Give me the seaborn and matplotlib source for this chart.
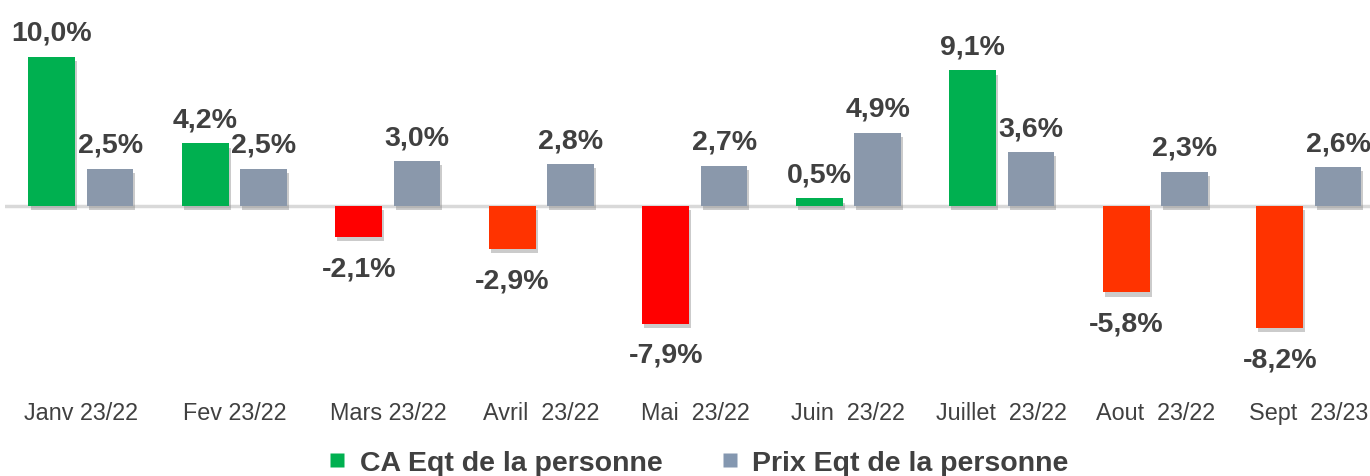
#import required libraries
import pandas as pd
import seaborn as sns
from matplotlib import pyplot as plt
from matplotlib import patheffects as pe
from matplotlib.lines import Line2D

# data
mois = ["Janv 23/22", "Fev 23/22", "Mars 23/22", "Avril  23/22", "Mai  23/22",
        "Juin  23/22", "Juillet  23/22", "Aout  23/22", "Sept  23/23"]
ca_eqt = [10.0, 4.2, -2.1, -2.9, -7.9, 0.5, 9.1, -5.8, -8.2]
prix_eqt = [2.5, 2.5, 3.0, 2.8, 2.7, 4.9, 3.6, 2.3, 2.6]
series = ["CA Eqt de la personne", "Prix Eqt de la personne"]

# colours of the CA bars (green when up, two reds when down)
ca_colors = ["#00B050", "#00B050", "#FF0000", "#FF3300", "#FF0000",
             "#00B050", "#00B050", "#FF3300", "#FF3300"]
prix_color = "#8497B0"
text_color = "#404040"

df = pd.DataFrame({
    "mois": mois * 2,
    "valeur": ca_eqt + prix_eqt,
    "serie": [series[0]] * len(mois) + [series[1]] * len(mois),
})

sns.set_style("white")
plt.rcParams["font.family"] = ["Liberation Sans", "DejaVu Sans"]

fig = plt.figure(figsize=(13.7, 4.77), dpi=100)
ax = fig.add_axes([0.0036, 0.172, 0.9964, 0.828])

sns.barplot(data=df, x="mois", y="valeur", hue="serie", order=mois,
            hue_order=series, palette=["#00B050", prix_color],
            width=0.76, gap=0.2, ax=ax, legend=False, zorder=3)

# recolour CA bars, add soft shadow
shadow = [pe.SimplePatchShadow(offset=(1.5, -3), shadow_rgbFace="#7f7f7f", alpha=0.4), pe.Normal()]
for bar, c in zip(ax.containers[0], ca_colors):
    bar.set_facecolor(c)
for cont in ax.containers:
    for bar in cont:
        bar.set_edgecolor("none")
        bar.set_path_effects(shadow)

def fr(v):
    return f"{v:.1f}%".replace(".", ",")

# labels: positive above the bar, negative a bit further below
for cont, vals in zip(ax.containers, [ca_eqt, prix_eqt]):
    ax.bar_label(cont, labels=[fr(v) if v >= 0 else "" for v in vals], padding=8,
                 fontsize=20.5, fontweight="bold", color=text_color)
    ax.bar_label(cont, labels=[fr(v) if v < 0 else "" for v in vals], padding=13,
                 fontsize=20.5, fontweight="bold", color=text_color)

ax.axhline(0, color="#D9D9D9", lw=2.5, zorder=2)

ax.set_xlim(-0.495, 8.398)
ax.set_ylim(-12.62, 13.89)
ax.set_xlabel("")
ax.set_ylabel("")
ax.set_yticks([])
ax.tick_params(axis="x", length=0, pad=5, labelsize=16.8, labelcolor=text_color)
sns.despine(ax=ax, left=True, bottom=True)

handles = [Line2D([], [], marker="s", linestyle="none", markersize=9.5,
                  markerfacecolor=c, markeredgecolor="none")
           for c in ["#00B050", prix_color]]
fig.legend(handles, series, loc="center", bbox_to_anchor=(0.509, 0.027), ncol=2,
           frameon=False, handlelength=0.8, handletextpad=0.4, columnspacing=1.95,
           borderpad=0.1, prop={"size": 20.5, "weight": "bold"}, labelcolor=text_color)

plt.savefig("out.png", dpi=100)
plt.close()
